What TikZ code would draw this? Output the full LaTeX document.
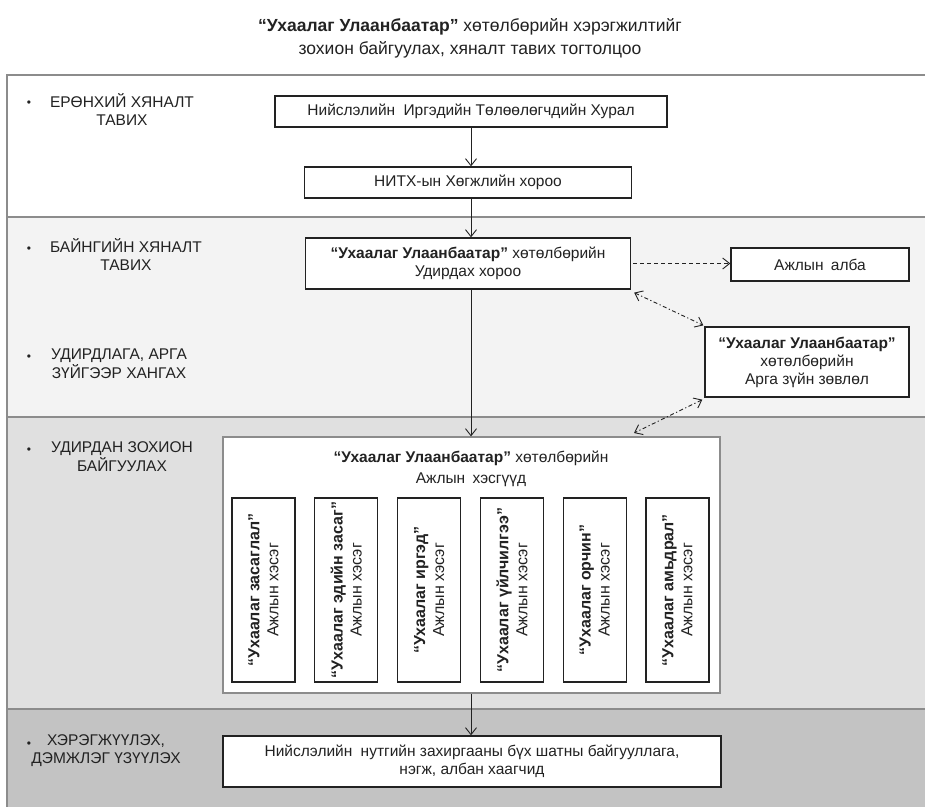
\documentclass[tikz,border=0pt]{standalone}
\usepackage{fontspec}
\setmainfont{Liberation Sans}
\usetikzlibrary{arrows.meta}
\definecolor{bandB}{HTML}{F3F3F3}
\definecolor{bandC}{HTML}{E0E0E0}
\definecolor{bandD}{HTML}{C3C3C3}
\definecolor{edgegray}{HTML}{8C8C8C}
\definecolor{ink}{HTML}{222222}
\begin{document}
\begin{tikzpicture}[x=1pt,y=-1pt,
  box/.style={draw=ink, line width=1.3pt, fill=white, inner sep=0pt, align=center,
    text=ink, font=\fontsize{15.5}{18}\selectfont},
  outerbox/.style={draw=edgegray, line width=1.2pt, fill=white, inner sep=0pt},
  vbox/.style={box, rotate=90, minimum width=184pt, minimum height=63pt,
    font=\fontsize{16}{19}\selectfont},
  lbl/.style={align=center, inner sep=0pt, text=ink, font=\fontsize{15.5}{18.5}\selectfont},
  bul/.style={inner sep=0pt, text=ink, font=\fontsize{12}{12}\selectfont},
  band/.style={draw=edgegray, line width=1.4pt},
  arr/.style={draw=ink, line width=0.9pt, -{Straight Barb[length=7pt,width=11pt,line width=0.9pt]}},
  dasharr/.style={arr, dash pattern=on 4pt off 3pt},
  dotarr/.style={draw=ink, line width=0.9pt, dash pattern=on 4pt off 2.5pt on 1.2pt off 2.5pt,
    {Straight Barb[length=7pt,width=11pt,line width=0.9pt]}-{Straight Barb[length=7pt,width=11pt,line width=0.9pt]}}
]
\useasboundingbox (0,0) rectangle (925,807);
\fill[white] (0,0) rectangle (925,807);
% bands
\fill[white] (7,75) rectangle (925,217);
\fill[bandB] (7,217) rectangle (925,417);
\fill[bandC] (7,417) rectangle (925,709);
\fill[bandD] (7,709) rectangle (925,807);
\draw[band] (925,75) -- (7,75) -- (7,807);
\draw[band] (7,217) -- (925,217);
\draw[band] (7,417) -- (925,417);
\draw[band] (7,709) -- (925,709);

% title
\node[lbl, font=\fontsize{17.5}{23}\selectfont] (title) at (470,38.5)
  {\textbf{“Ухаалаг Улаанбаатар”} хөтөлбөрийн хэрэгжилтийг\\зохион байгуулах, хяналт тавих тогтолцоо};

% band labels
\node[bul] (b1) at (29,104) {•};
\node[lbl] (l1) at (122,109.5) {ЕРӨНХИЙ ХЯНАЛТ\\ТАВИХ};
\node[bul] (b2) at (29,250) {•};
\node[lbl] (l2) at (126,254.5) {БАЙНГИЙН ХЯНАЛТ\\ТАВИХ};
\node[bul] (b3) at (29,358) {•};
\node[lbl] (l3) at (119,363.5) {УДИРДЛАГА, АРГА\\ЗҮЙГЭЭР ХАНГАХ};
\node[bul] (b4) at (29,451) {•};
\node[lbl] (l4) at (122,456.5) {УДИРДАН ЗОХИОН\\БАЙГУУЛАХ};
\node[bul] (b5) at (29,745) {•};
\node[lbl] (l5) at (106,750.5) {ХЭРЭГЖҮҮЛЭХ,\\ДЭМЖЛЭГ ҮЗҮҮЛЭХ};

% main nodes
\node[box, minimum width=392pt, minimum height=31pt] (n1) at (471,111.5)
  {Нийслэлийн\hspace{4pt} Иргэдийн Төлөөлөгчдийн Хурал};
\node[box, minimum width=327pt, minimum height=31pt] (n2) at (468,182.5)
  {НИТХ-ын Хөгжлийн хороо};
\node[box, minimum width=325pt, minimum height=51pt] (n3) at (468,263.5)
  {\textbf{“Ухаалаг Улаанбаатар”} хөтөлбөрийн\\Удирдах хороо};
\node[box, minimum width=178pt, minimum height=33pt] (n4) at (820,264.5)
  {Ажлын\hspace{3pt} алба};
\node[box, minimum width=204pt, minimum height=70pt] (n5) at (807,362)
  {\textbf{“Ухаалаг Улаанбаатар”}\\хөтөлбөрийн\\Арга зүйн зөвлөл};
\node[outerbox, minimum width=497pt, minimum height=256pt] (n6) at (471.5,565) {};
\node[lbl, font=\fontsize{15.5}{21}\selectfont] (n6t) at (471,468.5)
  {\textbf{“Ухаалаг Улаанбаатар”} хөтөлбөрийн\\Ажлын\hspace{3pt} хэсгүүд};
\node[vbox] (v1) at (263.5,590) {\textbf{“Ухаалаг засаглал”}\\Ажлын хэсэг};
\node[vbox] (v2) at (346.3,590) {\textbf{“Ухаалаг эдийн засаг”}\\Ажлын хэсэг};
\node[vbox] (v3) at (429.1,590) {\textbf{“Ухаалаг иргэд”}\\Ажлын хэсэг};
\node[vbox] (v4) at (511.9,590) {\textbf{“Ухаалаг үйлчилгээ”}\\Ажлын хэсэг};
\node[vbox] (v5) at (594.7,590) {\textbf{“Ухаалаг орчин”}\\Ажлын хэсэг};
\node[vbox] (v6) at (677.5,590) {\textbf{“Ухаалаг амьдрал”}\\Ажлын хэсэг};
\node[box, minimum width=498pt, minimum height=51pt] (n7) at (472,761.5)
  {Нийслэлийн\hspace{4pt} нутгийн захиргааны бүх шатны байгууллага,\\нэгж, албан хаагчид};

% connectors
\coordinate (c6) at (634,433);
\draw[arr] (n1.south) -- (n1.south |- n2.north);
\draw[arr] (n1.south |- n2.south) -- (n1.south |- n3.north);
\draw[arr] (n1.south |- n3.south) -- (n1.south |- n6.north);
\draw[arr] (n1.south |- n6.south) -- (n1.south |- n7.north);
\draw[dasharr] ([xshift=2pt]n3.east) -- (n3.east -| n4.west);
\draw[dotarr] ([shift={(3pt,-3pt)}]n3.south east) -- ([shift={(-1pt,1pt)}]n5.north west);
\draw[dotarr] ([shift={(-2pt,-2pt)}]n5.south west) -- (c6);
\end{tikzpicture}
\end{document}
